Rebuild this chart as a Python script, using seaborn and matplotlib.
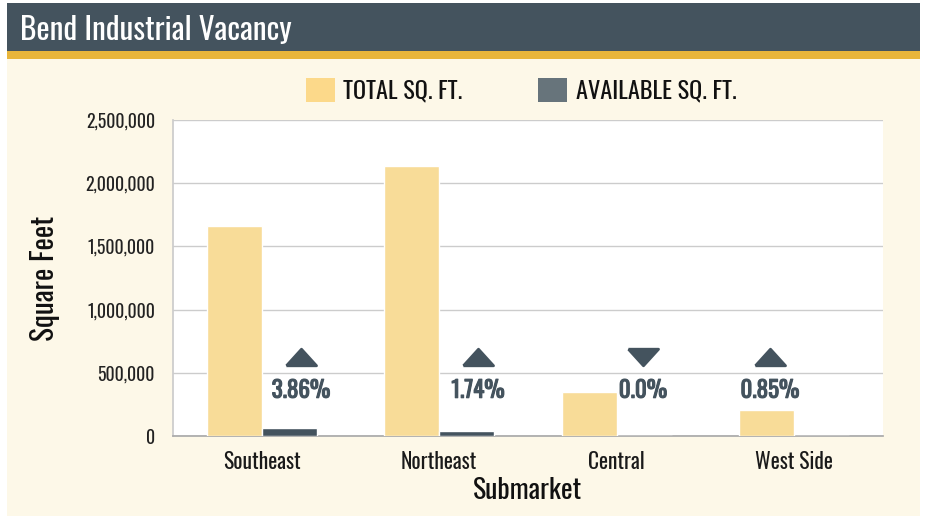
import matplotlib
matplotlib.use("Agg")
import matplotlib.pyplot as plt
from matplotlib.patches import Rectangle, Patch
from matplotlib.path import Path
import matplotlib.patheffects as pe
import seaborn as sns
import pandas as pd

# ---- data ----
submarkets = ["Southeast", "Northeast", "Central", "West Side"]
total_sqft = [1665000, 2140000, 347000, 205000]
available_sqft = [64000, 37000, 0, 1800]
vacancy_pct = [3.86, 1.74, 0.0, 0.85]
trend = ["up", "up", "down", "up"]
series_names = ["TOTAL SQ. FT.", "AVAILABLE SQ. FT."]
yticks = [0, 500000, 1000000, 1500000, 2000000, 2500000]

# ---- style ----
sns.set_theme(style="white")
FONT = ["Oswald", "Liberation Sans Narrow", "DejaVu Sans"]
plt.rcParams["font.family"] = FONT

DARK = "#44535e"
GOLD = "#e8b53a"
CREAM = "#fdf8e8"
TOTAL_C = "#f8dc98"
AVAIL_C = "#44535e"

W, H = 925, 516
fig = plt.figure(figsize=(W / 100, H / 100), dpi=100)
fig.patch.set_facecolor("white")

def fx(px):
    return px / W

def fy(py):
    return 1 - py / H

# background bands
fig.patches.append(Rectangle((fx(7), 0), fx(913), fy(59), transform=fig.transFigure,
                             facecolor=CREAM, edgecolor="none", zorder=-10))
fig.patches.append(Rectangle((fx(7), fy(59)), fx(913), 8 / H, transform=fig.transFigure,
                             facecolor=GOLD, edgecolor="none", zorder=-10))
fig.patches.append(Rectangle((fx(7), fy(51)), fx(913), 48 / H, transform=fig.transFigure,
                             facecolor=DARK, edgecolor="none", zorder=-10))
fig.text(fx(20), fy(30), "Bend Industrial Vacancy", color="white", fontsize=22.5,
         va="center", ha="left")

ax = fig.add_axes([fx(173), fy(436), fx(883) - fx(173), (436 - 120) / H])
ax.set_facecolor("white")

df = pd.DataFrame({
    "Submarket": submarkets * 2,
    "value": total_sqft + available_sqft,
    "series": [series_names[0]] * 4 + [series_names[1]] * 4,
})
sns.barplot(data=df, x="Submarket", y="value", hue="series",
            palette=[TOTAL_C, AVAIL_C], width=0.62, gap=0, legend=False,
            saturation=1, ax=ax, zorder=3)

ax.set_xlim(-0.5, 3.5)
ax.set_ylim(0, 2500000)
ax.set_yticks(yticks)
ax.set_yticklabels([f"{v:,}" for v in yticks], fontsize=12.8, color="#222222")
ax.yaxis.grid(True, color="#cccccc", linewidth=1, zorder=0)
ax.set_axisbelow(True)
ax.tick_params(axis="y", length=0, pad=13)

ax.set_xticks(range(4))
ax.set_xticklabels(submarkets, fontsize=15.5, color="#1a1a1a")
ax.tick_params(axis="x", which="major", length=0, pad=11)
ax.set_xticks([-0.5, 0.5, 1.5, 2.5, 3.5], minor=True)
ax.tick_params(axis="x", which="minor", length=7, color="#999999", width=1, direction="out")

for s in ["top", "right"]:
    ax.spines[s].set_visible(False)
ax.spines["left"].set_color("#cccccc")
ax.spines["bottom"].set_color("#aaaaaa")

ax.set_xlabel("Submarket", fontsize=20, color="#111111", labelpad=3)
ax.set_ylabel("Square Feet", fontsize=21, color="#111111", labelpad=18)

# trend markers and vacancy labels
label_x = [0.221, 1.218, 2.148, 2.863]
up = Path([(-1, -0.55), (1, -0.55), (0, 0.55), (-1, -0.55)])
down = Path([(-1, 0.55), (1, 0.55), (0, -0.55), (-1, 0.55)])
for xi, pct, tr in zip(label_x, vacancy_pct, trend):
    ax.scatter([xi], [625000], marker=up if tr == "up" else down, s=470,
               color=DARK, edgecolors=DARK, linewidths=2, zorder=5, clip_on=False)
    t = ax.text(xi, 362000, f"{pct}%", ha="center", va="center", fontsize=16.5,
                fontweight="bold", color=DARK, zorder=5)
    t.set_path_effects([pe.withStroke(linewidth=0.8, foreground=DARK)])

handles = [Patch(facecolor="#fcd98a", edgecolor="none"),
           Patch(facecolor="#67747b", edgecolor="none")]
fig.legend(handles, series_names, loc="center", bbox_to_anchor=(fx(521), fy(90)),
           ncol=2, frameon=False, fontsize=17.5, handlelength=1.2, handleheight=1.2,
           handletextpad=0.35, columnspacing=3.1, labelcolor="#111111")

fig.savefig("out.png", dpi=100)
